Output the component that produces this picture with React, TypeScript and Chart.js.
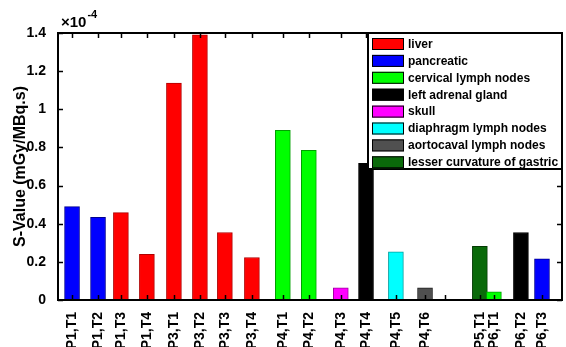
import React, { useEffect, useRef } from 'react';
import { Chart, registerables } from 'chart.js';

Chart.register(...registerables);

// Tick labels along the bottom axis (one empty tick between P4,T6 and P5,T1)
const tickLabels = [
  'P1,T1', 'P1,T2', 'P1,T3', 'P1,T4', 'P3,T1', 'P3,T2', 'P3,T3', 'P3,T4',
  'P4,T1', 'P4,T2', 'P4,T3', 'P4,T4', 'P4,T5', 'P4,T6', '', 'P5,T1', 'P6,T1', 'P6,T2', 'P6,T3',
];
// x data positions of each tick (irregular in the original)
const tickPositions = [
  1.0, 2.0, 2.88, 3.88, 4.92, 5.92, 6.88, 7.92,
  9.11, 10.11, 11.34, 12.31, 13.46, 14.58, 15.34, 16.69, 17.23, 18.27, 19.08,
];
const xMin = 0.46;
const xMax = 19.85;

// Organs (legend) and colours
const organs = [
  'liver', 'pancreatic', 'cervical lymph nodes', 'left adrenal gland', 'skull',
  'diaphragm lymph nodes', 'aortocaval lymph nodes', 'lesser curvature of gastric',
];
const organColors = ['#ff0000', '#0000ff', '#00ff00', '#000000', '#ff00ff', '#00ffff', '#505050', '#0a6a0a'];
const organEdges = ['#b00000', '#000090', '#00a000', '#000000', '#a000a0', '#00a0a0', '#202020', '#033a03'];

// organ index of each tick's bar (-1 = no bar)
const barOrgan = [1, 1, 0, 0, 0, 0, 0, 0, 2, 2, 4, 3, 5, 6, -1, 7, 2, 3, 1];
// S-values in units of 1e-4 mGy/MBq.s
const sValues = [
  0.49, 0.433, 0.458, 0.239, 1.138, 1.39, 0.354, 0.223,
  0.89, 0.785, 0.064, 0.716, 0.253, 0.064, null, 0.281, 0.043, 0.354, 0.216,
];
const yTicks = [0, 0.2, 0.4, 0.6, 0.8, 1, 1.2, 1.4];

const FONT = '"Liberation Sans", Arial, sans-serif';

const framePlugin = {
  id: 'matlabFrame',
  afterDraw(chart: any) {
    const { ctx, chartArea } = chart;
    const { left, right, top, bottom } = chartArea;
    const xs = chart.scales.x;
    const ys = chart.scales.y;
    ctx.save();
    ctx.strokeStyle = '#000';
    ctx.lineWidth = 1.5;
    const line = (x1: number, y1: number, x2: number, y2: number) => {
      ctx.beginPath();
      ctx.moveTo(x1, y1);
      ctx.lineTo(x2, y2);
      ctx.stroke();
    };
    xs.ticks.forEach((t: any) => {
      const px = Math.round(xs.getPixelForValue(t.value)) + 0.5;
      line(px, bottom, px, bottom - 5);
      line(px, top, px, top + 5);
    });
    ys.ticks.forEach((t: any) => {
      const py = Math.round(ys.getPixelForValue(t.value)) + 0.5;
      line(left, py, left + 5, py);
      line(right, py, right - 5, py);
    });
    ctx.lineWidth = 2;
    ctx.strokeRect(left, top, right - left, bottom - top);

    // exponent label
    ctx.fillStyle = '#000';
    ctx.textBaseline = 'alphabetic';
    ctx.textAlign = 'left';
    ctx.font = `bold 15px ${FONT}`;
    ctx.fillText('\u00d710', left + 3, top - 6);
    const w = ctx.measureText('\u00d710').width;
    ctx.font = `bold 11px ${FONT}`;
    ctx.fillText('-4', left + 4 + w, top - 15);

    // legend
    const lw = 194;
    const lh = 136;
    const lx = right - lw;
    const ly = top;
    ctx.fillStyle = '#fff';
    ctx.fillRect(lx, ly, lw, lh);
    ctx.lineWidth = 2;
    ctx.strokeStyle = '#000';
    ctx.strokeRect(lx, ly, lw, lh);
    ctx.font = `bold 12px ${FONT}`;
    ctx.textBaseline = 'middle';
    chart.data.datasets.forEach((ds: any, i: number) => {
      const cy = ly + 11 + i * 16.9;
      ctx.fillStyle = ds.backgroundColor;
      ctx.fillRect(lx + 4, cy - 6, 32, 12);
      ctx.lineWidth = 1;
      ctx.strokeStyle = '#000';
      ctx.strokeRect(lx + 4.5, cy - 5.5, 31, 11);
      ctx.fillStyle = '#000';
      ctx.fillText(ds.label, lx + 40, cy + 0.5);
    });
    ctx.restore();
  },
};

export default function App() {
  const ref = useRef<HTMLCanvasElement>(null);

  useEffect(() => {
    document.body.style.margin = '0';
    const datasets = organs.map((name, oi) => ({
      label: name,
      data: tickPositions
        .map((x, i) => ({ x, y: sValues[i], o: barOrgan[i] }))
        .filter((p) => p.o === oi && p.y !== null)
        .map((p) => ({ x: p.x, y: p.y as number })),
      backgroundColor: organColors[oi],
      borderColor: organEdges[oi],
      borderWidth: 1,
      barThickness: 15,
      grouped: false,
    }));

    const chart = new Chart(ref.current as HTMLCanvasElement, {
      type: 'bar',
      data: { datasets } as any,
      plugins: [framePlugin],
      options: {
        animation: false,
        responsive: false,
        devicePixelRatio: 1,
        layout: { padding: { top: 33, right: 4, left: 0, bottom: 0 } },
        plugins: { legend: { display: false }, tooltip: { enabled: false } },
        scales: {
          x: {
            type: 'linear',
            min: xMin,
            max: xMax,
            offset: false,
            grid: { display: false },
            border: { display: false },
            afterBuildTicks: (scale: any) => {
              scale.ticks = tickPositions.map((v) => ({ value: v }));
            },
            afterFit: (scale: any) => {
              scale.height = 47;
            },
            ticks: {
              autoSkip: false,
              minRotation: 90,
              maxRotation: 90,
              padding: 4,
              color: '#000',
              font: { family: FONT, size: 14, weight: 'bold' },
              callback: (_v: any, i: number) => tickLabels[i],
            },
          },
          y: {
            type: 'linear',
            min: 0,
            max: 1.4,
            grid: { display: false },
            border: { display: false },
            afterBuildTicks: (scale: any) => {
              scale.ticks = yTicks.map((v) => ({ value: v }));
            },
            afterFit: (scale: any) => {
              scale.width = 58;
            },
            ticks: {
              padding: 4,
              color: '#000',
              font: { family: FONT, size: 14, weight: 'bold' },
              callback: (v: any) => String(Math.round(v * 10) / 10),
            },
            title: {
              display: true,
              text: 'S-Value (mGy/MBq.s)',
              color: '#000',
              font: { family: FONT, size: 16, weight: 'bold' },
              padding: { top: 11, bottom: 0 },
            },
          },
        },
      } as any,
    });
    return () => chart.destroy();
  }, []);

  return (
    <div style={{ position: 'absolute', left: 0, top: 0, width: 566, height: 347, background: '#fff' }}>
      <canvas ref={ref} width={566} height={347} />
    </div>
  );
}
